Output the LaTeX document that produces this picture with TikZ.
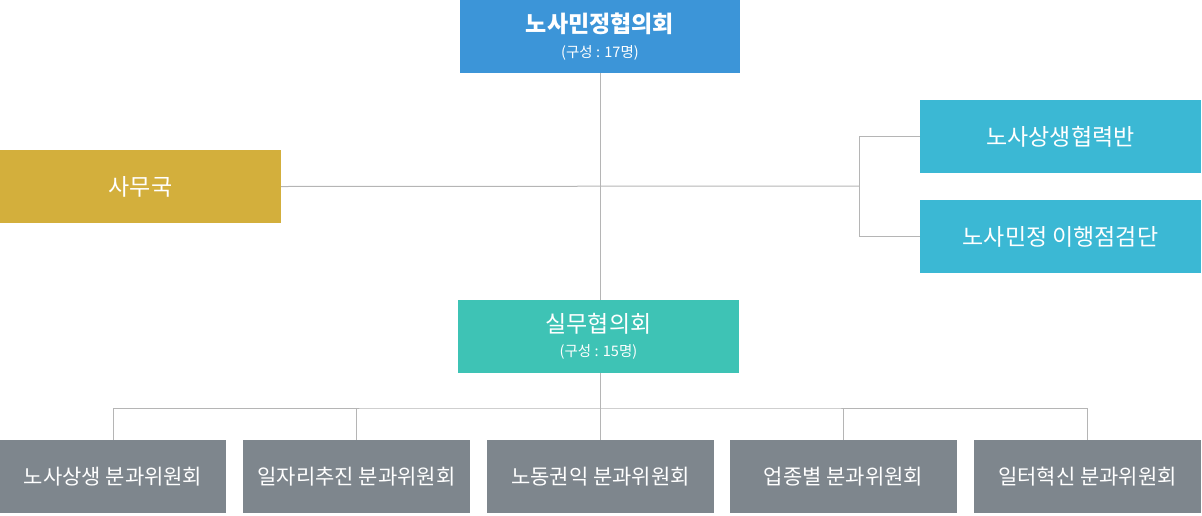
\documentclass[tikz,border=0pt]{standalone}
\usepackage{fontspec}
\setmainfont{Noto Sans CJK KR}
\definecolor{cblue}{HTML}{3C95D8}
\definecolor{cgold}{HTML}{D3AF3C}
\definecolor{ccyan}{HTML}{3BB8D4}
\definecolor{cteal}{HTML}{3EC3B5}
\definecolor{cgray}{HTML}{7E868D}
\definecolor{cline}{HTML}{B5B5B5}
\begin{document}
\begin{tikzpicture}[x=1pt,y=-1pt,
  box/.style={inner sep=0pt,outer sep=0pt,text=white,align=center,minimum height=73pt,anchor=north west,font=\fontsize{23}{28}\selectfont},
  small/.style={box,font=\fontsize{21}{26}\selectfont},
  conn/.style={draw=cline,line width=1pt}]
\useasboundingbox (0,0) rectangle (1202,515);
\coordinate (br) at (859,186);
\coordinate (bus) at (600,408);
\node[box,fill=cblue,minimum width=280pt] (top) at (460,0) {\bfseries 노사민정협의회\\[-3.5pt]{\fontsize{14.5}{16}\selectfont (구성 : 17명)}};
\node[box,fill=cgold,minimum width=281pt] (sec) at (0,150) {사무국};
\node[box,fill=ccyan,minimum width=281pt] (r1) at (920,100) {노사상생협력반};
\node[box,fill=ccyan,minimum width=281pt] (r2) at (920,200) {노사민정 이행점검단};
\node[box,fill=cteal,minimum width=281pt] (mid) at (458,300) {실무협의회\\[-3.5pt]{\fontsize{14.5}{16}\selectfont (구성 : 15명)}};
\node[small,fill=cgray,minimum width=226pt] (b1) at (0,440) {노사상생 분과위원회};
\node[small,fill=cgray,minimum width=227pt] (b2) at (243,440) {일자리추진 분과위원회};
\node[small,fill=cgray,minimum width=227pt] (b3) at (487,440) {노동권익 분과위원회};
\node[small,fill=cgray,minimum width=227pt] (b4) at (730,440) {업종별 분과위원회};
\node[small,fill=cgray,minimum width=227pt] (b5) at (974,440) {일터혁신 분과위원회};
\draw[conn] (top.south) -- (top.south |- mid.north);
\draw[conn] (sec.east) -- (br);
\draw[conn] (r1.west) -| (br) |- (r2.west);
\draw[conn] (top.south |- mid.south) -- (bus);
\draw[conn] (b1.north) |- (bus) -| (b5.north);
\draw[conn] (b2.north) -- (b2.north |- bus);
\draw[conn] (b3.north) -- (b3.north |- bus);
\draw[conn] (b4.north) -- (b4.north |- bus);
\end{tikzpicture}
\end{document}
